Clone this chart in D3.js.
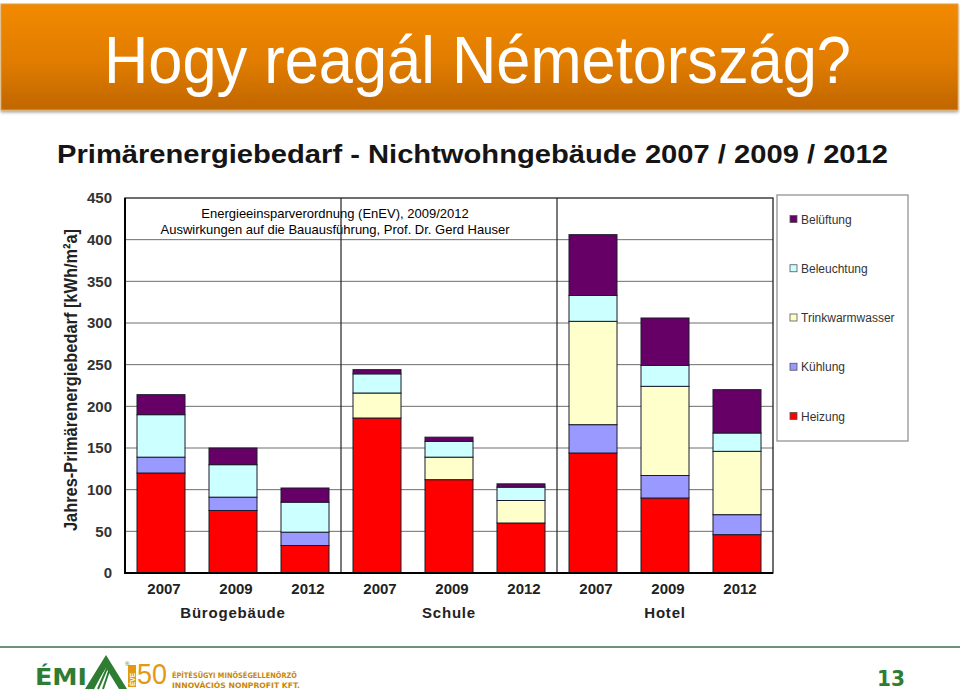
<!DOCTYPE html>
<html>
<head>
<meta charset="utf-8">
<script src="https://cdn.jsdelivr.net/npm/d3@7"></script>
<style>
  html, body { margin: 0; padding: 0; background: #fff; }
  svg { display: block; }
</style>
</head>
<body>
<svg id="chart" width="960" height="692"></svg>
<script>
// ---------------- DATA ----------------
const groups = ["Bürogebäude", "Schule", "Hotel"];
const years = ["2007", "2009", "2012"];
const seriesNames = ["Heizung", "Kühlung", "Trinkwarmwasser", "Beleuchtung", "Belüftung"];
const heizung         = [120, 75, 33, 186, 112, 60, 144, 90, 46];
const kuehlung        = [19, 16, 16, 0, 0, 0, 34, 27, 24];
const trinkwarmwasser = [0, 0, 0, 30, 27, 27, 124, 107, 76];
const beleuchtung     = [51, 39, 36, 23, 19, 16, 31, 25, 22];
const belueftung      = [24, 20, 17, 5, 5, 4, 73, 57, 52];
const yTicks = [0, 50, 100, 150, 200, 250, 300, 350, 400, 450];
const seriesColors = ["#ff0000", "#9999ff", "#ffffcc", "#ccffff", "#660066"];

const pageTitle = "Hogy reagál Németország?";
const chartTitle = "Primärenergiebedarf - Nichtwohngebäude 2007 / 2009 / 2012";
const yLabel = "Jahres-Primärenergiebedarf [kWh/m²a]";
const sourceLines = ["Energieeinsparverordnung (EnEV), 2009/2012",
                     "Auswirkungen auf die Bauausführung, Prof. Dr. Gerd Hauser"];

// ---------------- BUILD TABLE ----------------
const valuesBySeries = [heizung, kuehlung, trinkwarmwasser, beleuchtung, belueftung];
const rows = [];
groups.forEach((g, gi) => years.forEach((yr, yi) => {
  const i = gi * years.length + yi;
  const r = { key: g + "|" + yr, group: g, year: yr };
  seriesNames.forEach((s, si) => r[s] = valuesBySeries[si][i]);
  rows.push(r);
}));

const svg = d3.select("#chart");
const defs = svg.append("defs");

// ---------------- HEADER BANNER ----------------
const grad = defs.append("linearGradient").attr("id", "bannerGrad")
  .attr("x1", 0).attr("y1", 0).attr("x2", 0).attr("y2", 1);
grad.append("stop").attr("offset", "0%").attr("stop-color", "#f28a00");
grad.append("stop").attr("offset", "55%").attr("stop-color", "#e07c00");
grad.append("stop").attr("offset", "100%").attr("stop-color", "#c06600");
const shadow = defs.append("filter").attr("id", "shadow").attr("x", "-5%").attr("y", "-5%").attr("width", "110%").attr("height", "120%");
shadow.append("feDropShadow").attr("dx", 0).attr("dy", 2).attr("stdDeviation", 1.5).attr("flood-color", "#000").attr("flood-opacity", 0.35);

svg.append("rect").attr("x", 1).attr("y", 4).attr("width", 957).attr("height", 106)
  .attr("fill", "url(#bannerGrad)").attr("stroke", "#d9a050").attr("stroke-width", 1)
  .attr("filter", "url(#shadow)");
svg.append("text").attr("x", 104).attr("y", 83)
  .attr("font-family", "'Liberation Sans Narrow', 'Liberation Sans', Arial, sans-serif")
  .attr("font-size", 67).attr("fill", "#ffffff")
  .attr("textLength", 747).attr("lengthAdjust", "spacingAndGlyphs")
  .text(pageTitle);

// ---------------- CHART TITLE ----------------
svg.append("text").attr("x", 57).attr("y", 163)
  .attr("font-family", "'Liberation Sans', Arial, sans-serif").attr("font-weight", "bold")
  .attr("font-size", 25).attr("fill", "#151515")
  .attr("textLength", 831).attr("lengthAdjust", "spacingAndGlyphs")
  .text(chartTitle);

// ---------------- SCALES ----------------
const plotL = 125, plotR = 773, plotT = 198, plotB = 573;
const x = d3.scaleBand().domain(rows.map(d => d.key)).range([plotL, plotR])
  .paddingInner(1 / 3).paddingOuter(1 / 6);
const y = d3.scaleLinear().domain([0, 450]).range([plotB, plotT]);

const g = svg.append("g");

// gridlines
g.append("g").selectAll("line").data(yTicks.filter(t => t > 0 && t < 450)).join("line")
  .attr("x1", plotL).attr("x2", plotR)
  .attr("y1", d => y(d)).attr("y2", d => y(d))
  .attr("stroke", "#6e6e6e").attr("stroke-width", 1);

// source text
const src = g.append("g").attr("font-family", "'Liberation Sans', Arial, sans-serif")
  .attr("font-size", 13).attr("fill", "#000").attr("text-anchor", "middle");
sourceLines.forEach((t, i) => src.append("text").attr("x", 335).attr("y", 218 + i * 16).text(t));

// group separators
const sepX = [1, 2].map(k => (x(rows[k * 3 - 1].key) + x.bandwidth() + x(rows[k * 3].key)) / 2);
g.append("g").selectAll("line").data(sepX).join("line")
  .attr("x1", d => d).attr("x2", d => d).attr("y1", plotT).attr("y2", plotB)
  .attr("stroke", "#222").attr("stroke-width", 1.2);

// frame
g.append("rect").attr("x", plotL).attr("y", plotT).attr("width", plotR - plotL).attr("height", plotB - plotT)
  .attr("fill", "none").attr("stroke", "#222").attr("stroke-width", 1.3);

// stacked bars
const stack = d3.stack().keys(seriesNames)(rows);
const layers = g.append("g").selectAll("g").data(stack).join("g")
  .attr("fill", (d, i) => seriesColors[i]);
layers.selectAll("rect").data(d => d.filter(s => s[1] - s[0] > 0)).join("rect")
  .attr("x", d => x(d.data.key))
  .attr("width", x.bandwidth())
  .attr("y", d => y(d[1]))
  .attr("height", d => y(d[0]) - y(d[1]))
  .attr("stroke", "#1a1a2a").attr("stroke-width", 1);

// axis lines (thicker left / bottom)
g.append("line").attr("x1", plotL).attr("x2", plotL).attr("y1", plotT).attr("y2", plotB)
  .attr("stroke", "#000").attr("stroke-width", 2);
g.append("line").attr("x1", plotL - 1).attr("x2", plotR).attr("y1", plotB).attr("y2", plotB)
  .attr("stroke", "#000").attr("stroke-width", 2);

// y axis tick labels
const yAxis = d3.axisLeft(y).tickValues(yTicks).tickSize(0).tickPadding(13);
const ya = svg.append("g").attr("transform", `translate(${plotL},0)`).call(yAxis);
ya.select(".domain").remove();
ya.selectAll("text").attr("font-family", "'Liberation Sans', Arial, sans-serif")
  .attr("font-weight", "bold").attr("font-size", 15).attr("fill", "#333");

// x axis tick labels (years)
const xAxis = d3.axisBottom(x).tickSize(0).tickPadding(0).tickFormat(k => k.split("|")[1]);
const xa = svg.append("g").attr("transform", `translate(0,${plotB})`).call(xAxis);
xa.select(".domain").remove();
xa.selectAll("text").attr("dy", null).attr("y", 21).attr("dx", 3)
  .attr("font-family", "'Liberation Sans', Arial, sans-serif")
  .attr("font-weight", "bold").attr("font-size", 15).attr("fill", "#222");

// group labels
svg.append("g").selectAll("text").data(groups).join("text")
  .attr("x", (d, i) => x(rows[i * 3 + 1].key) + x.bandwidth() / 2)
  .attr("y", 618).attr("text-anchor", "middle")
  .attr("font-family", "'Liberation Sans', Arial, sans-serif")
  .attr("font-weight", "bold").attr("font-size", 15).attr("fill", "#222")
  .attr("letter-spacing", 0.8)
  .text(d => d);

// y label
svg.append("text")
  .attr("transform", `translate(77,${380}) rotate(-90)`)
  .attr("text-anchor", "middle")
  .attr("font-family", "'Liberation Sans Narrow', 'Liberation Sans', Arial, sans-serif")
  .attr("font-weight", "bold").attr("font-size", 19).attr("fill", "#222")
  .attr("textLength", 302).attr("lengthAdjust", "spacingAndGlyphs")
  .text(yLabel);

// ---------------- LEGEND ----------------
const legend = svg.append("g");
legend.append("rect").attr("x", 777).attr("y", 195).attr("width", 131).attr("height", 246)
  .attr("fill", "#fff").attr("stroke", "#8a8a8a").attr("stroke-width", 1.2);
const legOrder = seriesNames.map((s, i) => ({ name: s, color: seriesColors[i] })).reverse();
const legY = d3.scalePoint().domain(legOrder.map(d => d.name)).range([219, 416]);
const li = legend.selectAll("g.item").data(legOrder).join("g").attr("class", "item")
  .attr("transform", d => `translate(790,${legY(d.name)})`);
li.append("rect").attr("x", 0).attr("y", -3.5).attr("width", 7).attr("height", 7)
  .attr("fill", d => d.color).attr("stroke", "#555").attr("stroke-width", 0.8);
li.append("text").attr("x", 11).attr("y", 4.5)
  .attr("font-family", "'Liberation Sans', Arial, sans-serif").attr("font-size", 12)
  .attr("fill", "#333").text(d => d.name);

// ---------------- FOOTER ----------------
svg.append("line").attr("x1", 0).attr("x2", 960).attr("y1", 647).attr("y2", 647)
  .attr("stroke", "#3f6b4c").attr("stroke-width", 1.5);
svg.append("text").attr("x", 35).attr("y", 685)
  .attr("font-family", "'DejaVu Sans', sans-serif").attr("font-weight", "bold")
  .attr("font-size", 23).attr("fill", "#2f7d32")
  .attr("textLength", 52).attr("lengthAdjust", "spacingAndGlyphs").text("ÉMI");
// roof icon
const roof = svg.append("g");
roof.append("path").attr("d", "M85,689 L106,655 L127,689 L119,689 L106,668 L93,689 Z").attr("fill", "#2f7d32");
[0, 1, 2, 3].forEach(k => {
  roof.append("line").attr("x1", 88 + k * 5).attr("y1", 689).attr("x2", 104 + k * 2).attr("y2", 662 + k * 2)
    .attr("stroke", "#2f7d32").attr("stroke-width", 2);
});
svg.append("text").attr("x", 125).attr("y", 666).attr("font-size", 6).attr("fill", "#2f7d32")
  .attr("font-family", "'Liberation Sans', Arial, sans-serif").text("®");
svg.append("rect").attr("x", 128).attr("y", 665).attr("width", 8).attr("height", 22).attr("fill", "#e39a12");
svg.append("text").attr("transform", "translate(134.5,686) rotate(-90)").attr("font-size", 6.5)
  .attr("font-family", "'Liberation Sans', Arial, sans-serif").attr("font-weight", "bold")
  .attr("fill", "#fff").text("ÉVE");
svg.append("text").attr("x", 137).attr("y", 684)
  .attr("font-family", "'Liberation Sans Narrow', 'Liberation Sans', sans-serif")
  .attr("font-size", 30).attr("fill", "#e39a12")
  .attr("textLength", 30).attr("lengthAdjust", "spacingAndGlyphs").text("50");
const ft = svg.append("g").attr("font-family", "'DejaVu Sans', sans-serif").attr("font-weight", "bold")
  .attr("font-size", 7.5).attr("fill", "#c8870a");
ft.append("text").attr("x", 172).attr("y", 678).attr("textLength", 125).attr("lengthAdjust", "spacingAndGlyphs")
  .text("ÉPÍTÉSÜGYI MINŐSÉGELLENŐRZŐ");
ft.append("text").attr("x", 172).attr("y", 688).attr("textLength", 128).attr("lengthAdjust", "spacingAndGlyphs")
  .text("INNOVÁCIÓS NONPROFIT KFT.");
svg.append("text").attr("x", 877).attr("y", 686)
  .attr("font-family", "'DejaVu Sans', sans-serif").attr("font-weight", "bold")
  .attr("font-size", 22).attr("fill", "#2f7d32")
  .attr("textLength", 28).attr("lengthAdjust", "spacingAndGlyphs").text("13");
</script>
</body>
</html>
